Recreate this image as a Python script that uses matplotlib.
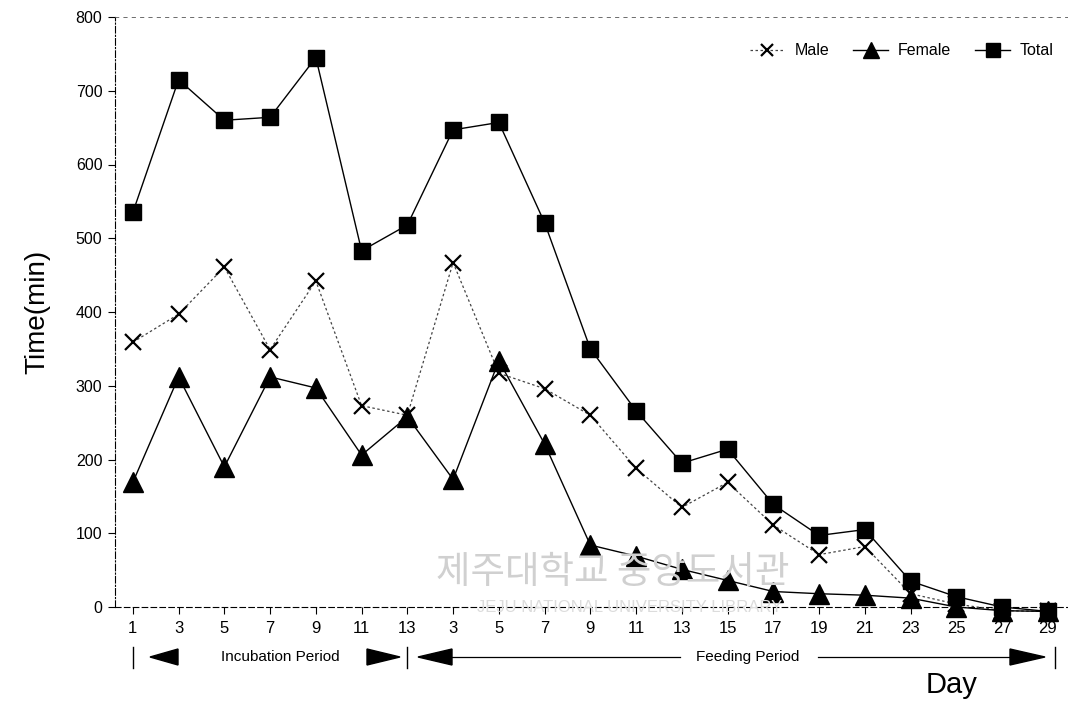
import matplotlib
matplotlib.use("Agg")
import matplotlib.pyplot as plt
from matplotlib.patches import Polygon

days = ["1", "3", "5", "7", "9", "11", "13",
        "3", "5", "7", "9", "11", "13", "15", "17", "19", "21", "23", "25", "27", "29"]
male = [359, 397, 461, 349, 442, 273, 260,
        467, 317, 296, 260, 188, 135, 169, 111, 71, 82, 18, 4, -5, -6]
female = [169, 312, 190, 312, 297, 206, 258,
          173, 334, 221, 84, 69, 51, 36, 21, 18, 16, 12, 0, -5, -6]
total = [535, 715, 660, 664, 745, 483, 518,
         647, 657, 521, 350, 266, 195, 214, 139, 97, 105, 35, 14, 0, -6]
yticks = [0, 100, 200, 300, 400, 500, 600, 700, 800]

plt.rcParams['font.family'] = ['Liberation Sans', 'DejaVu Sans']
fig = plt.figure(figsize=(10.68, 7.02), dpi=100)
ax = fig.add_axes([115/1068, 1-607/702, 1-115/1068, 590/702])
x = list(range(len(days)))

# watermark
fig.text(613/1068, 1-572/702, "제주대학교 중앙도서관", family=['Noto Sans CJK KR'], fontsize=27,
         color='#d0d0d0', ha='center', va='center', zorder=0)
fig.text(630/1068, 1-607/702, "JEJU NATIONAL UNIVERSITY LIBRARY", fontsize=12,
         color='#dcdcdc', ha='center', va='center', zorder=0)

ax.plot(x, male, color='#444444', lw=0.9, ls=(0, (2, 2)), marker='x', ms=11,
        mew=1.6, mec='black', label='Male', clip_on=False, zorder=3)
ax.plot(x, female, color='black', lw=1.0, marker='^', ms=14, mfc='black', mec='black',
        label='Female', clip_on=False, zorder=3)
ax.plot(x, total, color='black', lw=1.0, marker='s', ms=12, mfc='black', mec='black',
        label='Total', clip_on=False, zorder=4)

ax.set_xlim(-0.39, 20.44)
ax.set_ylim(0, 800)
ax.set_yticks(yticks)
ax.set_yticklabels([str(v) for v in yticks], fontsize=11.5)
ax.set_xticks(x)
ax.set_xticklabels(days, fontsize=12)
ax.tick_params(axis='y', direction='out', length=5, width=0.8, pad=4)
ax.tick_params(axis='x', direction='out', length=5, width=0.8, pad=5)

ax.spines['left'].set_linestyle((0, (6, 2, 1, 2)))
ax.spines['left'].set_linewidth(0.8)
ax.spines['top'].set_linestyle((0, (4, 6)))
ax.spines['top'].set_linewidth(0.6)
ax.spines['top'].set_color('#555555')
ax.spines['bottom'].set_linestyle((0, (5, 3)))
ax.spines['bottom'].set_linewidth(0.8)
ax.spines['right'].set_visible(False)

ax.set_ylabel("Time(min)", fontsize=20, labelpad=18)
fig.text(952/1068, 1-685/702, "Day", fontsize=21, ha='center', va='center')

leg = ax.legend(loc='upper right', ncol=3, frameon=False, fontsize=11.5,
                bbox_to_anchor=(1.0, 0.98), handlelength=2.2, columnspacing=1.5,
                handletextpad=0.6, markerscale=0.85)

# period annotations (figure pixel coordinates)
def fx(px):
    return px / 1068
def fy(py):
    return 1 - py / 702

yr = 657
for bx in [133, 407, 1055]:
    fig.add_artist(plt.Line2D([fx(bx), fx(bx)], [fy(647), fy(668)], color='black', lw=1.0))

def tri(x_tip, x_base, half=8):
    return Polygon([[fx(x_tip), fy(yr)], [fx(x_base), fy(yr - half)], [fx(x_base), fy(yr + half)]],
                   closed=True, facecolor='black', edgecolor='black', transform=fig.transFigure)

fig.add_artist(tri(150, 178))
fig.add_artist(tri(400, 367))
fig.add_artist(tri(418, 452))
fig.add_artist(tri(1045, 1010))
fig.text(fx(280), fy(yr), "Incubation Period", fontsize=11, ha='center', va='center')
fig.text(fx(748), fy(yr), "Feeding Period", fontsize=11, ha='center', va='center')
fig.add_artist(plt.Line2D([fx(452), fx(680)], [fy(yr), fy(yr)], color='black', lw=0.9))
fig.add_artist(plt.Line2D([fx(818), fx(1010)], [fy(yr), fy(yr)], color='black', lw=0.9))

fig.savefig("out.png", dpi=100)
